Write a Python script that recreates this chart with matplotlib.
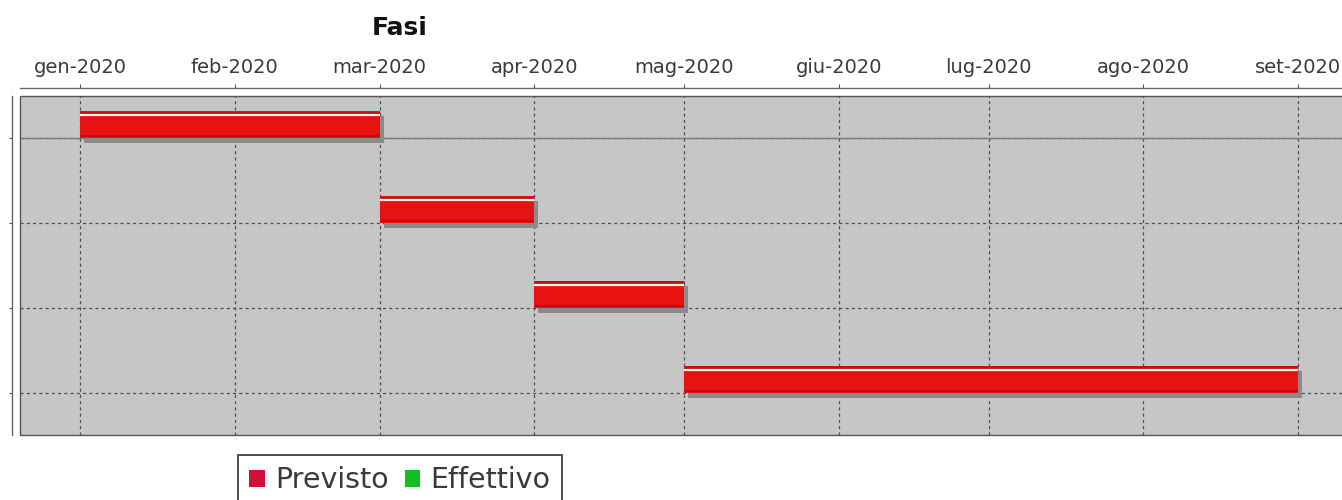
import datetime as dt
import numpy as np
import matplotlib
matplotlib.use("Agg")
import matplotlib.pyplot as plt
import matplotlib.dates as mdates
from matplotlib.patches import Patch, Rectangle

# data
fasi = ["Fase 1", "Fase 2", "Fase 3", "Fase 4"]
inizio = ["2020-01-01", "2020-03-01", "2020-04-01", "2020-05-01"]
fine = ["2020-03-01", "2020-04-01", "2020-05-01", "2020-09-01"]
mesi = ["gen", "feb", "mar", "apr", "mag", "giu", "lug", "ago", "set", "ott", "nov", "dic"]
serie = ["Previsto", "Effettivo"]
colori_serie = ["#d0103a", "#10c020"]

W, H = 1342, 500
fig = plt.figure(figsize=(W / 100, H / 100), dpi=100)
fig.patch.set_facecolor("white")

# plot area in pixels: x 20 -> (past right edge), y 96 -> 435
left_px, right_px, top_px, bot_px = 20, 1380, 96, 435
ax = fig.add_axes([left_px / W, (H - bot_px) / H, (right_px - left_px) / W, (bot_px - top_px) / H])
ax.set_facecolor("#c6c6c6")

d0 = mdates.date2num(dt.datetime(2020, 1, 1))
px_day = (1298 - 80) / 244.0
ax.set_xlim(d0 - (80 - left_px) / px_day, d0 + (right_px - 80) / px_day)
ax.set_ylim(len(fasi) - 0.5, -0.5)

band_px = (bot_px - top_px) / len(fasi)
bar_h = 27 / band_px
sh_x = 4 / px_day
sh_y = 5 / band_px

starts = mdates.datestr2num(inizio)
ends = mdates.datestr2num(fine)
ypos = np.arange(len(fasi))

# shadows
ax.barh(ypos - bar_h + sh_y, ends - starts, left=starts + sh_x, height=bar_h,
        align="edge", color="#8a8a8a", zorder=3)
# bars
ax.barh(ypos - bar_h, ends - starts, left=starts, height=bar_h,
        align="edge", color="#e81212", zorder=4)
# gradient-like highlight lines
ax.hlines(ypos - bar_h + 1.5 / band_px, starts, ends, color="#c01010", lw=2, zorder=5)
ax.hlines(ypos - bar_h + 4 / band_px, starts, ends, color="#fff4ee", lw=1.6, zorder=5)
ax.hlines(ypos - 2 / band_px, starts, ends, color="#c40c0c", lw=1.5, zorder=5)

# grid
ax.set_yticks(ypos)
ax.set_yticklabels([])
ax.xaxis.set_major_locator(mdates.MonthLocator())
ax.xaxis.set_major_formatter(plt.FuncFormatter(
    lambda v, p: "%s-%d" % (mesi[mdates.num2date(v).month - 1], mdates.num2date(v).year)))
ax.grid(True, axis="both", color="#505050", lw=0.9, linestyle=(0, (2.5, 2.5)), zorder=1)
ax.axhline(0, color="#7a7a7a", lw=1.0, zorder=2)

# axes look
ax.xaxis.tick_top()
ax.tick_params(axis="x", which="both", direction="out", length=3, width=0.8,
               pad=5, labelsize=14, colors="#555555", labelcolor="#3a3a3a")
ax.tick_params(axis="y", direction="out", length=2, width=0.8, colors="#555555")
for s in ["top", "left"]:
    ax.spines[s].set_position(("outward", 8 * 72 / 100))
    ax.spines[s].set_color("#666666")
    ax.spines[s].set_linewidth(1.0)
ax.spines["bottom"].set_visible(False)
ax.spines["right"].set_visible(False)
ax.add_patch(Rectangle((0, 0), 1, 1, transform=ax.transAxes, fill=False,
                       edgecolor="#555555", lw=1.0, clip_on=False, zorder=6))

fig.text(400 / W, 1 - 28 / H, "Fasi", ha="center", va="center",
         fontsize=18, fontweight="bold", color="#111111")

handles = [Patch(facecolor=c, edgecolor="none") for c in colori_serie]
leg = fig.legend(handles, serie, ncol=2, loc="upper left",
                 bbox_to_anchor=(238 / W, 1 - 455 / H), frameon=True, fancybox=False,
                 fontsize=20.5, handlelength=0.55, handleheight=0.55, handletextpad=0.36,
                 columnspacing=0.55, borderpad=0.4, borderaxespad=0)
leg.get_frame().set_edgecolor("#111111")
leg.get_frame().set_linewidth(1.3)
for t in leg.get_texts():
    t.set_color("#3a3a3a")

fig.savefig("out.png", dpi=100)
